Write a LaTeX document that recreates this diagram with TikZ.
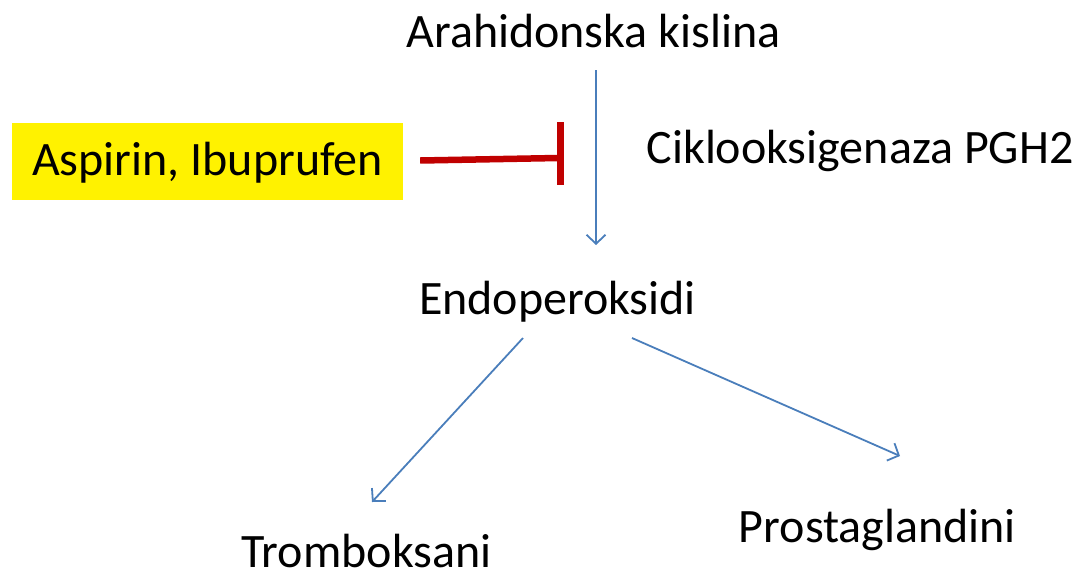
\documentclass[tikz,border=0pt]{standalone}
\usepackage{fontspec}
\setmainfont{Carlito}
\usetikzlibrary{arrows.meta,calc}
\definecolor{arrblue}{HTML}{4A7EBB}
\definecolor{inhred}{HTML}{C00000}
\tikzset{
  lbl/.style={anchor=base, inner sep=0pt, font=\fontsize{48}{57}\selectfont},
  arr/.style={draw=arrblue, line width=1.8pt, -{Straight Barb[length=9pt,width=19pt,line width=1.8pt]}},
  inh/.style={draw=inhred, line width=6.5pt},
  hilite/.style={fill=yellow, minimum width=391pt, minimum height=77pt, inner sep=0pt,
    text height=36pt, text depth=9pt, font=\fontsize{48}{57}\selectfont}
}
\begin{document}
\begin{tikzpicture}[x=1pt,y=-1pt]
\useasboundingbox (0,0) rectangle (1078,574);
\node[lbl] (arah) at (593.5,47) {Arahidonska kislina};
\node[lbl] (cikl) at (860,163) {Ciklooksigenaza PGH2};
\node[hilite] (asp) at (207.5,161.5) {Aspirin, Ibuprufen};
\node[lbl] (endo) at (557.5,314) {Endoperoksidi};
\node[lbl] (trom) at (366.5,567) {Tromboksani};
\node[lbl] (pros) at (877.5,542) {Prostaglandini};
% main pathway
\draw[arr] ([shift={(2.5,23)}]arah.base) -- ([shift={(38.5,-69)}]endo.base);
\draw[arr] ([shift={(-34.5,24)}]endo.base) -- ([shift={(5.5,-65)}]trom.base);
\draw[arr] ([shift={(74.5,24)}]endo.base) -- ([shift={(22.5,-86)}]pros.base);
% inhibition
\draw[inh] ([shift={(17,-1)}]asp.east) -- ([shift={(155,-3.5)}]asp.east);
\draw[inh, line width=7pt] ([shift={(157,-39.5)}]asp.east) -- ([shift={(157,23.5)}]asp.east);
\end{tikzpicture}
\end{document}
